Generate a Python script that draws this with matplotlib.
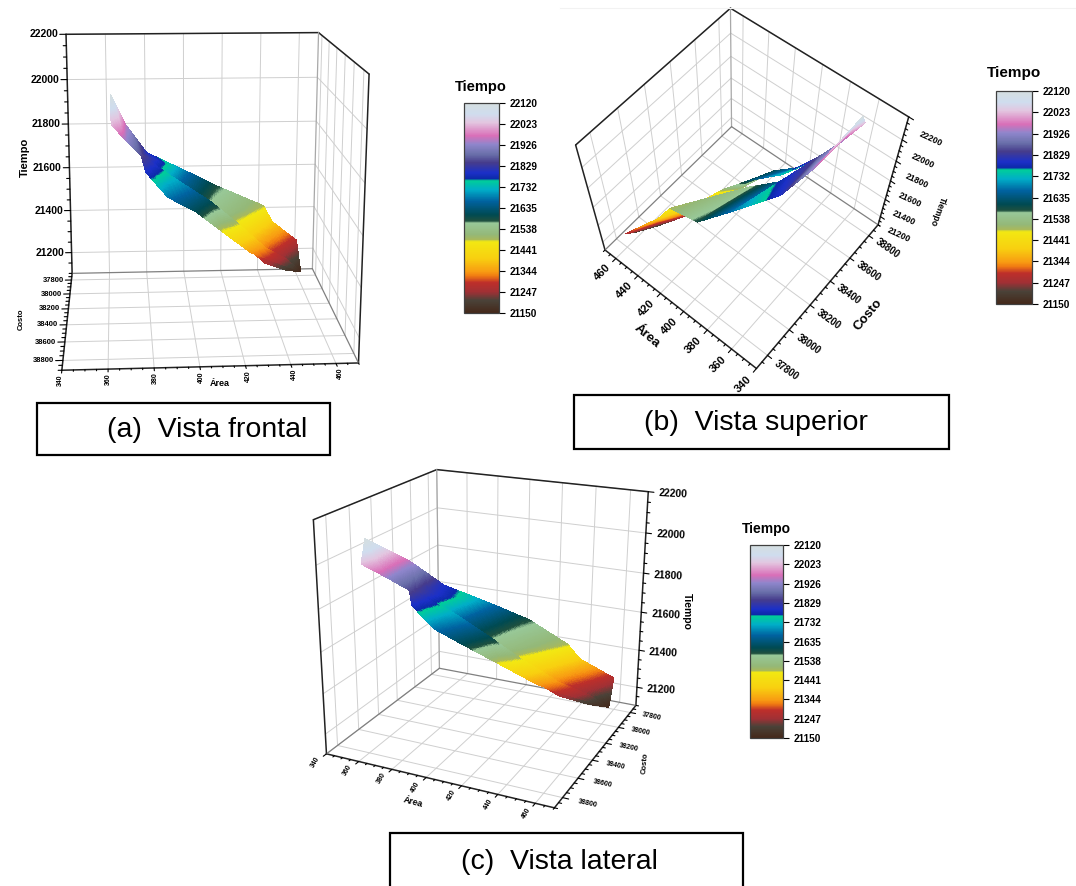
import numpy as np
import matplotlib
matplotlib.use('Agg')
import matplotlib.pyplot as plt
import matplotlib.tri as mtri
from matplotlib.cm import ScalarMappable
from matplotlib.colors import LinearSegmentedColormap, Normalize
from matplotlib.patches import Rectangle
from matplotlib.lines import Line2D
from mpl_toolkits.mplot3d import proj3d

plt.rcParams['font.family'] = ['Liberation Sans', 'DejaVu Sans']

W, H = 1076, 886

# ribbon read from the three views: rear sheet (top edge / hidden edge)
rear_top_area = [363, 369.3, 379, 398.5, 414.8, 438.6, 444, 459.2, 460.3]
rear_top_costo = [38810, 38504, 38324, 38144, 38006, 38014, 37952, 37802, 37899]
rear_top_tiempo = [22120, 21950, 21800, 21680, 21580, 21490, 21400, 21270, 21150]
rear_low_area = [363, 369.3, 375.8, 389.8, 408.3, 421.3, 438.6, 451.6, 460.3]
rear_low_costo = [38852, 38720, 38624, 38468, 38384, 38300, 38120, 37988, 37899]
rear_low_tiempo = [22020, 21930, 21855, 21665, 21540, 21430, 21260, 21185, 21150]

# front sheet (crease / bottom edge)
front_top_area = [375.8, 389.8, 408.3, 421.3, 438.6, 451.6, 460.3]
front_top_costo = [38624, 38468, 38384, 38300, 38120, 37988, 37899]
front_top_tiempo = [21855, 21735, 21610, 21500, 21330, 21235, 21150]
front_low_area = [377.9, 387.7, 400.7, 416.9, 429.9, 441.8, 460.3]
front_low_costo = [38636, 38590, 38530, 38350, 38218, 38110, 37899]
front_low_tiempo = [21790, 21680, 21605, 21455, 21340, 21270, 21150]

area_ticks = [340, 360, 380, 400, 420, 440, 460]
costo_ticks = [37800, 38000, 38200, 38400, 38600, 38800]
tiempo_ticks = [21200, 21400, 21600, 21800, 22000, 22200]
cbar_ticks = [21150, 21247, 21344, 21441, 21538, 21635, 21732, 21829, 21926, 22023, 22120]

cmap_values = [21150, 21207, 21246, 21290, 21320, 21340, 21402, 21479, 21490, 21511, 21565,
               21576, 21604, 21666, 21720, 21762, 21770, 21798, 21845, 21884, 21930, 21969,
               22031, 22070, 22120]
cmap_colors = ['#45281A', '#4A4238', '#A03035', '#BE2F2A', '#F07A12', '#F89B12', '#F8D010',
               '#F2E812', '#A8B85C', '#94B878', '#98C898', '#1E503F', '#004A52', '#0062A0',
               '#00AEC8', '#00CE98', '#0C2AA8', '#1B30C8', '#463C8C', '#6A70AA', '#8F86CC',
               '#D96FB8', '#E3C6E0', '#CFDDEE', '#D5DEE0']

x_lim = (340, 470)
y_lim = (38900, 37700)
z_lim = (21100, 22200)

norm = Normalize(21150, 22120)
cmap = LinearSegmentedColormap.from_list(
    'tiempo', [(norm(v), c) for v, c in zip(cmap_values, cmap_colors)], N=512)

fig = plt.figure(figsize=(W / 100, H / 100), dpi=100)


def sheet(ax, top, low, zorder):
    n = len(top[0])
    u = np.r_[np.arange(n), np.arange(n)].astype(float)
    v = np.r_[np.zeros(n), np.ones(n)]
    t = mtri.Triangulation(u, v)
    refiner = mtri.UniformTriRefiner(t)
    fields = []
    for a, b in zip(top, low):
        f = np.r_[a, b].astype(float)
        fine, vals = refiner.refine_field(f, triinterpolator=mtri.LinearTriInterpolator(t, f), subdiv=5)
        fields.append(vals)
    s = ax.plot_trisurf(fields[0], fields[1], fields[2], triangles=fine.triangles, cmap=cmap, norm=norm,
                        linewidth=0, antialiased=False, zorder=zorder)
    s.set_clip_on(False)


def seg(ax, xs, ys, zs, color='black', lw=1.0, zorder=2):
    ax.plot(xs, ys, zs, color=color, lw=lw, zorder=zorder, clip_on=False, solid_capstyle='round')


def label(ax, x, y, z, s, fs, rot=0, ha='center'):
    # Text3D ignores rotation, so the position is projected and the label is placed in 2D
    u, v, _ = proj3d.proj_transform(x, y, z, ax.get_proj())
    ax.text2D(u, v, s, transform=ax.transData, fontsize=fs, fontweight='bold', rotation=rot,
              ha=ha, va='center', rotation_mode='anchor', clip_on=False)


def draw_view(v):
    ax = fig.add_axes(v['rect'], projection='3d', computed_zorder=False)
    ax.set_xlim(*x_lim)
    ax.set_ylim(*y_lim)
    ax.set_zlim(*z_lim)
    ax.view_init(elev=v['elev'], azim=v['azim'], roll=v['roll'])
    ax.set_proj_type('persp', focal_length=v['f'])
    ax.set_box_aspect(v['box'])
    ax.set_axis_off()

    wx, ox = v['wall_x'], v['other_x']
    wy, oy = v['wall_y'], v['other_y']
    zb, zt = z_lim
    grid = '#cfcfcf'

    # grid on floor and the two walls
    for x in area_ticks:
        seg(ax, [x, x], [wy, oy], [zb, zb], grid, 0.7, 1)
        seg(ax, [x, x], [wy, wy], [zb, zt], grid, 0.7, 1)
    for y in costo_ticks:
        seg(ax, [ox, wx], [y, y], [zb, zb], grid, 0.7, 1)
        seg(ax, [wx, wx], [y, y], [zb, zt], grid, 0.7, 1)
    for z in tiempo_ticks:
        seg(ax, [ox, wx], [wy, wy], [z, z], grid, 0.7, 1)
        seg(ax, [wx, wx], [wy, oy], [z, z], grid, 0.7, 1)

    # frame
    seg(ax, [ox, wx], [wy, wy], [zt, zt], '#222222', 1.1)
    seg(ax, [wx, wx], [wy, oy], [zt, zt], '#222222', 1.1)
    seg(ax, [ox, ox], [wy, wy], [zb, zt], '#222222', 1.1)
    seg(ax, [wx, wx], [oy, oy], [zb, zt], '#222222', 1.1)
    seg(ax, [ox, wx], [oy, oy], [zb, zb], '#222222', 1.1)
    seg(ax, [ox, ox], [wy, oy], [zb, zb], '#222222', 1.1)
    seg(ax, [wx, wx], [wy, wy], [zb, zt], '#a8a8a8', 0.9)
    seg(ax, [ox, wx], [wy, wy], [zb, zb], '#808080', 0.9)
    seg(ax, [wx, wx], [wy, oy], [zb, zb], '#808080', 0.9)

    # ticks
    sy = np.sign(oy - wy)
    sx = np.sign(ox - wx)
    for x in np.arange(340, 471, 5):
        d = 28 if x % 20 == 0 else 14
        seg(ax, [x, x], [oy, oy + sy * d], [zb, zb], lw=0.8)
    for y in np.arange(37750, 38901, 50):
        d = 3.2 if y % 200 == 0 else 1.6
        seg(ax, [ox, ox + sx * d], [y, y], [zb, zb], lw=0.8)
    for z in np.arange(21100, 22201, 50):
        d = 3.2 if z % 200 == 0 else 1.6
        seg(ax, [ox, ox + sx * d], [wy, wy], [z, z], lw=0.8)

    # tick labels
    for x in area_ticks:
        label(ax, x, v['area_y'], zb, str(x), v['area_fs'], v['area_rot'])
    for y in costo_ticks:
        label(ax, v['costo_x'], y, zb, str(y), v['costo_fs'], v['costo_rot'], v['costo_ha'])
    for z in tiempo_ticks:
        label(ax, v['tiempo_x'], wy, z + v['tiempo_dz'], str(z), v['tiempo_fs'], v['tiempo_rot'], v['tiempo_ha'])

    # axis titles
    for name, key in (('Área', 'area_title'), ('Costo', 'costo_title'), ('Tiempo', 'tiempo_title')):
        x, y, z, rot, fs = v[key]
        label(ax, x, y, z, name, fs, rot)

    sheet(ax, (rear_top_area, rear_top_costo, rear_top_tiempo),
          (rear_low_area, rear_low_costo, rear_low_tiempo), v['rear_z'])
    sheet(ax, (front_top_area, front_top_costo, front_top_tiempo),
          (front_low_area, front_low_costo, front_low_tiempo), v['front_z'])
    return ax


def draw_colorbar(left, top, width, height, title_x, title_y, title_fs):
    cax = fig.add_axes([left / W, 1 - (top + height) / H, width / W, height / H])
    cb = fig.colorbar(ScalarMappable(norm=norm, cmap=cmap), cax=cax, ticks=cbar_ticks)
    cb.ax.set_yticklabels([str(t) for t in cbar_ticks], fontsize=7.2, fontweight='bold')
    cb.ax.tick_params(length=4, width=0.8, pad=3.5)
    cb.outline.set_linewidth(0.9)
    cb.outline.set_edgecolor('#404040')
    fig.text(title_x / W, 1 - title_y / H, 'Tiempo', fontsize=title_fs, fontweight='bold', ha='center', va='center')


def caption(left, top, right, bottom, text, text_x, text_y):
    fig.add_artist(Rectangle((left / W, 1 - bottom / H), (right - left) / W, (bottom - top) / H,
                             transform=fig.transFigure, fill=False, edgecolor='black', lw=1.6))
    fig.text(text_x / W, 1 - text_y / H, text, fontsize=20.5, ha='left', va='center')


views = [
    dict(elev=14.56, azim=-93.90, roll=-0.13, f=0.4964, box=(1, 1.013, 0.988),
         rect=(-0.0322, 0.5229, 0.4274, 0.5191),
         wall_x=470, other_x=340, wall_y=37700, other_y=38900, rear_z=3, front_z=4,
         area_y=39000, area_fs=5, area_rot=90,
         costo_x=336, costo_fs=5.5, costo_rot=0, costo_ha='right',
         tiempo_x=336, tiempo_fs=7.5, tiempo_rot=0, tiempo_ha='right', tiempo_dz=0,
         area_title=(407, 39070, 21100, 0, 6.5),
         costo_title=(318, 38320, 21100, 90, 5.5),
         tiempo_title=(317, 37700, 21650, 90, 8)),
    dict(elev=57.94, azim=128.71, roll=-0.70, f=0.4481, box=(1, 1.018, 0.939),
         rect=(0.5236, 0.5830, 0.3260, 0.3960),
         wall_x=470, other_x=340, wall_y=38900, other_y=37700, rear_z=4, front_z=3,
         area_y=37580, area_fs=8, area_rot=45,
         costo_x=325, costo_fs=7, costo_rot=-35, costo_ha='center',
         tiempo_x=324, tiempo_fs=6.3, tiempo_rot=-25, tiempo_ha='center', tiempo_dz=-60,
         area_title=(406.6, 37449, 21100, -40, 9.5),
         costo_title=(307, 38365, 21100, 50, 9.5),
         tiempo_title=(305, 38900, 21600, -110, 6.3)),
    dict(elev=20.27, azim=-65.10, roll=-0.25, f=0.4786, box=(1, 0.996, 0.984),
         rect=(0.2622, 0.0650, 0.3752, 0.4557),
         wall_x=340, other_x=470, wall_y=37700, other_y=38900, rear_z=3, front_z=4,
         area_y=39000, area_fs=5, area_rot=60,
         costo_x=483, costo_fs=5, costo_rot=-12, costo_ha='center',
         tiempo_x=476, tiempo_fs=7.5, tiempo_rot=-3, tiempo_ha='left', tiempo_dz=0,
         area_title=(406, 39130, 21100, -15, 6.5),
         costo_title=(496, 38320, 21100, 85, 5.5),
         tiempo_title=(496, 37700, 21640, -90, 7.5)),
]

for view in views:
    draw_view(view)

draw_colorbar(464, 103, 35, 210, 481, 87, 10.5)
draw_colorbar(996, 91, 36, 213, 1014, 73, 11)
draw_colorbar(750, 545, 33, 193, 766, 529, 10)

fig.add_artist(Line2D([560 / W, 1], [1 - 8 / H, 1 - 8 / H], color='#f2f2f2', lw=0.8))
caption(37, 403, 330, 455, '(a)  Vista frontal', 107, 430)
caption(574, 395, 949, 449, '(b)  Vista superior', 644, 423)
caption(390, 833, 743, 900, '(c)  Vista lateral', 461, 862)

fig.savefig('out.png', dpi=100)
